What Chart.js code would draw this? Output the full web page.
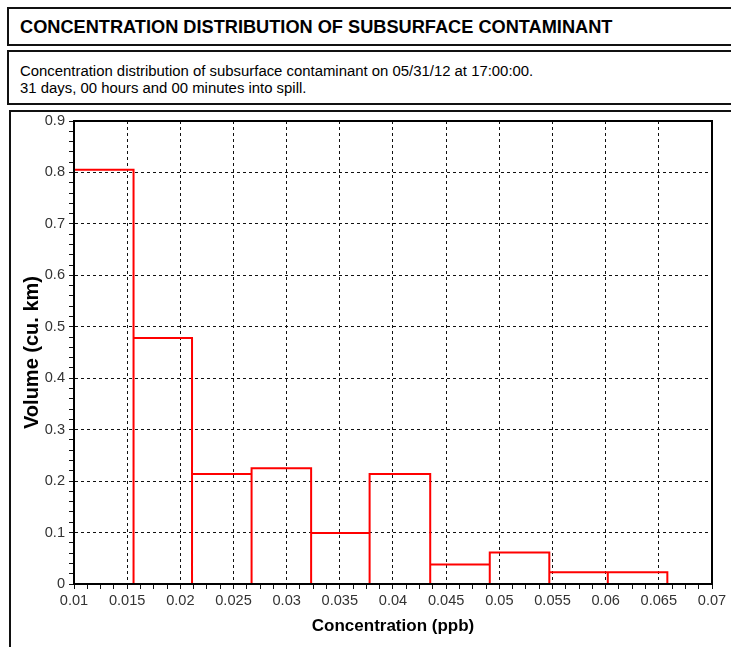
<!DOCTYPE html>
<html>
<head>
<meta charset="utf-8">
<script src="https://cdn.jsdelivr.net/npm/chart.js@4.4.1/dist/chart.umd.min.js"></script>
<style>
  body { margin: 0; width: 731px; height: 647px; overflow: hidden; background: #fff; position: relative;
         font-family: 'Liberation Sans', Arial, sans-serif; color: #000; }
  .box { position: absolute; border: 2px solid #111; box-sizing: border-box; }
  #title { left: 7px; top: 7px; width: 740px; height: 39px; font-weight: bold; font-size: 18.2px; padding: 8px 0 0 11px; white-space: nowrap; }
  #sub { left: 7px; top: 50px; width: 740px; height: 55px; font-size: 14.9px; line-height: 17px; padding: 11px 0 0 11px; white-space: nowrap; }
  #frame { left: 9px; top: 110px; width: 740px; height: 560px; }
  #wrap { position: absolute; left: 12px; top: 113px; width: 719px; height: 534px; }
</style>
</head>
<body>
<div class="box" id="title">CONCENTRATION DISTRIBUTION OF SUBSURFACE CONTAMINANT</div>
<div class="box" id="sub">Concentration distribution of subsurface contaminant on 05/31/12 at 17:00:00.<br>31 days, 00 hours and 00 minutes into spill.</div>
<div class="box" id="frame"></div>
<div id="wrap"><canvas id="histChart" width="719" height="534"></canvas></div>
<script>
// histogram bins (ppb) and volume in each bin (cu. km)
const binEdges = [0.0100, 0.0156, 0.0211, 0.0267, 0.0323, 0.0378, 0.0435, 0.0491, 0.0547, 0.0602, 0.0658];
const volumes = [0.805, 0.478, 0.214, 0.225, 0.099, 0.214, 0.038, 0.061, 0.023, 0.023];

const xTickLabels = ['0.01', '0.015', '0.02', '0.025', '0.03', '0.035', '0.04', '0.045', '0.05', '0.055', '0.06', '0.065', '0.07'];
const yTickLabels = ['0', '0.1', '0.2', '0.3', '0.4', '0.5', '0.6', '0.7', '0.8', '0.9'];

// outline of each bar: up the left edge, across the top, down the right edge
const outline = [];
volumes.forEach((v, i) => {
    outline.push({ x: binEdges[i], y: 0 }, { x: binEdges[i], y: v },
                 { x: binEdges[i + 1], y: v }, { x: binEdges[i + 1], y: 0 });
});

function majorIndex(value, start, step) {
    const k = (value - start) / step;
    return Math.abs(k - Math.round(k)) < 1e-6 ? Math.round(k) : -1;
}

Chart.defaults.font.family = "'Liberation Sans', Arial, sans-serif";

const ctx = document.getElementById('histChart').getContext('2d');
const histChart = new Chart(ctx, {
    type: 'scatter',
    data: {
        datasets: [{
            data: outline,
            showLine: true,
            borderColor: '#ff0000',
            borderWidth: 2,
            pointRadius: 0,
            tension: 0,
            fill: false
        }]
    },
    options: {
        responsive: false,
        animation: false,
        layout: { padding: { top: 8, right: 19, left: 0, bottom: 0 } },
        plugins: { legend: { display: false }, tooltip: { enabled: false } },
        scales: {
            x: {
                type: 'linear',
                position: 'bottom',
                min: 0.01,
                max: 0.07,
                ticks: {
                    stepSize: 0.00125,
                    autoSkip: false,
                    maxRotation: 0,
                    padding: 3,
                    color: '#333',
                    font: { size: 14.6 },
                    callback: (v) => {
                        const i = majorIndex(v, 0.01, 0.005);
                        return i >= 0 ? xTickLabels[i] : '';
                    }
                },
                grid: {
                    color: (c) => majorIndex(c.tick.value, 0.01, 0.005) >= 0 ? '#111' : 'rgba(0,0,0,0)',
                    lineWidth: 1,
                    tickLength: 5,
                    tickColor: '#111'
                },
                border: { color: '#000', width: 2, dash: [3, 3], z: 1 },
                title: {
                    display: true,
                    text: 'Concentration (ppb)',
                    color: '#000',
                    font: { size: 17, weight: 'bold' },
                    padding: { top: 0, bottom: 10 }
                },
                afterFit: (s) => { s.height = 63; }
            },
            y: {
                type: 'linear',
                position: 'left',
                min: 0,
                max: 0.9,
                ticks: {
                    stepSize: 0.02,
                    autoSkip: false,
                    padding: 4,
                    color: '#333',
                    font: { size: 14.6 },
                    callback: (v) => {
                        const i = majorIndex(v, 0, 0.1);
                        return i >= 0 ? yTickLabels[i] : '';
                    }
                },
                grid: {
                    color: (c) => majorIndex(c.tick.value, 0, 0.1) >= 0 ? '#111' : 'rgba(0,0,0,0)',
                    lineWidth: 1,
                    tickLength: 5,
                    tickColor: '#111'
                },
                border: { color: '#000', width: 2, dash: [3, 3], z: 1 },
                title: {
                    display: true,
                    text: 'Volume (cu. km)',
                    color: '#000',
                    font: { size: 20, weight: 'bold' },
                    padding: { top: 8, bottom: 0 }
                },
                afterFit: (s) => { s.width = 62; s.paddingTop = 8; s.paddingBottom = 0; }
            },
            // top and right edges of the plot frame
            x2: {
                type: 'linear',
                position: 'top',
                ticks: { display: false },
                grid: { display: false, drawTicks: false },
                border: { color: '#000', width: 2, z: 1 },
                afterFit: (s) => { s.height = 0; }
            },
            y2: {
                type: 'linear',
                position: 'right',
                ticks: { display: false },
                grid: { display: false, drawTicks: false },
                border: { color: '#000', width: 2, z: 1 },
                afterFit: (s) => { s.width = 0; }
            }
        }
    }
});
</script>
</body>
</html>
